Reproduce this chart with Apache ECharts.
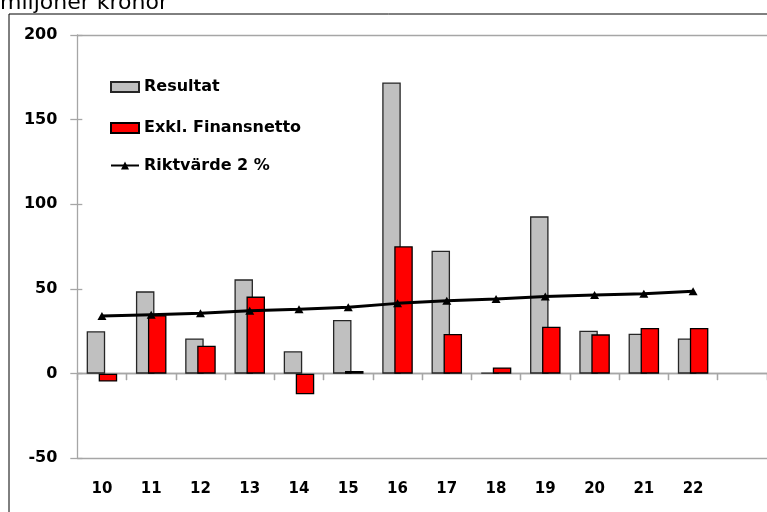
<!DOCTYPE html>
<html>
<head>
<meta charset="utf-8">
<script src="https://cdn.jsdelivr.net/npm/echarts@6/dist/echarts.min.js"></script>
<style>
html,body{margin:0;padding:0;background:#fff;}
#chart{width:767px;height:512px;}
</style>
</head>
<body>
<div id="chart"></div>
<script>
var categories = ['10','11','12','13','14','15','16','17','18','19','20','21','22',''];
var resultat = [25, 48.6, 20.8, 55.7, 13.2, 31.7, 172, 72.6, 0.5, 92.9, 25.4, 23.6, 20.8];
var exklFinansnetto = [-4.7, 34.5, 16.5, 45.5, -12.2, 1.6, 75.2, 23.4, 3.7, 27.7, 23.2, 27.0, 27.0];
var riktvarde = [34, 34.8, 35.6, 37.2, 38.0, 39.2, 41.5, 43.1, 44.1, 45.5, 46.4, 47.2, 48.6];
var yTicks = {min: -50, max: 200, interval: 50};
var titleText = 'miljoner kronor';
var names = ['Resultat', 'Exkl. Finansnetto', 'Riktvärde 2 %'];

var FONT = 'DejaVu Sans';
var axisGrey = '#a6a6a6';
var chart = echarts.init(document.getElementById('chart'), null, {renderer: 'canvas'});

function legendAt(name, top, icon) {
  var l = {
    data: [name], left: 110, top: top, orient: 'vertical',
    itemWidth: 28, itemHeight: 10, selectedMode: false, padding: 0,
    textStyle: {fontFamily: FONT, fontWeight: 'bold', fontSize: 16, color: '#000', lineHeight: 18}
  };
  if (icon) { l.icon = icon; }
  return l;
}

var baseX = {
  type: 'category', data: categories, gridIndex: 0,
  axisLine: {onZero: true, lineStyle: {color: axisGrey, width: 1.3}},
  axisTick: {show: true, length: 6.5, lineStyle: {color: axisGrey, width: 1.3}},
  axisLabel: {show: false}, splitLine: {show: false}
};

var option = {
  animation: false,
  backgroundColor: '#fff',
  grid: {left: 77.3, top: 35, right: -1, bottom: 53.7, containLabel: false},
  legend: [legendAt(names[0], 78, 'rect'), legendAt(names[1], 119, 'rect'), legendAt(names[2], 156.5)],
  graphic: [
    {type: 'rect', shape: {x: 9, y: 14, width: 900, height: 700}, style: {fill: 'none', stroke: '#000', lineWidth: 1}, silent: true, z: 0},
    {type: 'text', x: 0, y: 3.5, style: {text: titleText, font: '22px "DejaVu Sans"', fill: '#000', verticalAlign: 'middle', align: 'left'}, silent: true}
  ],
  xAxis: [
    baseX,
    Object.assign({}, baseX, {axisTick: {show: true, inside: true, length: 6.5, lineStyle: {color: axisGrey, width: 1.3}}}),
    {
      type: 'category', data: categories, position: 'bottom',
      axisLine: {show: false, onZero: false}, axisTick: {show: false},
      axisLabel: {show: true, margin: 23, fontFamily: FONT, fontWeight: 'bold', fontSize: 15, color: '#000'},
      splitLine: {show: false}
    }
  ],
  yAxis: [
    {
      type: 'value', min: yTicks.min, max: yTicks.max, interval: yTicks.interval,
      axisLine: {show: true, lineStyle: {color: axisGrey, width: 1.3}},
      axisTick: {show: true, length: 7, lineStyle: {color: axisGrey, width: 1.3}},
      axisLabel: {margin: 20, fontFamily: FONT, fontWeight: 'bold', fontSize: 16, color: '#000'},
      splitLine: {show: true, lineStyle: {color: [axisGrey, 'transparent', 'transparent', 'transparent', 'transparent', axisGrey], width: 1.3}}
    },
    {
      type: 'value', min: yTicks.min, max: yTicks.max, interval: yTicks.interval, position: 'left',
      axisLine: {show: false}, axisTick: {show: true, inside: true, length: 5, lineStyle: {color: axisGrey, width: 1.3}},
      axisLabel: {show: false}, splitLine: {show: false}
    }
  ],
  series: [
    {
      name: names[0], type: 'bar', data: resultat, xAxisIndex: 0, yAxisIndex: 0,
      barWidth: 18.5, barGap: '-35%',
      itemStyle: {color: '#c0c0c0', borderColor: '#262626', borderWidth: 1.3}
    },
    {
      name: names[1], type: 'bar', data: exklFinansnetto, xAxisIndex: 0, yAxisIndex: 0,
      barWidth: 18.5, barGap: '-35%',
      itemStyle: {color: '#ff0000', borderColor: '#000', borderWidth: 1.3}
    },
    {
      name: names[2], type: 'line', data: riktvarde, xAxisIndex: 0, yAxisIndex: 0,
      symbol: 'triangle', symbolSize: [9, 8], showSymbol: true,
      lineStyle: {color: '#000', width: 3},
      itemStyle: {color: '#000'}, z: 5
    }
  ]
};
chart.setOption(option);
</script>
</body>
</html>
